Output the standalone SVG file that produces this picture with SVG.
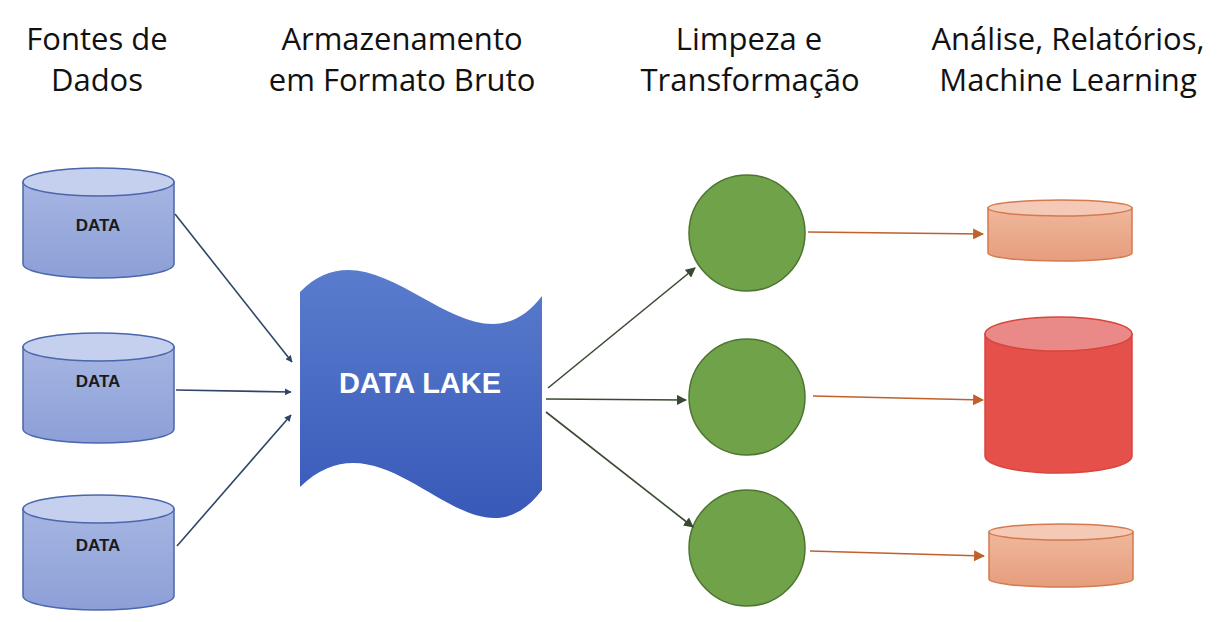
<svg xmlns="http://www.w3.org/2000/svg" width="1226" height="622" viewBox="0 0 1226 622">
<defs>
<linearGradient id="gBlue" x1="0" y1="0" x2="0" y2="1"><stop offset="0" stop-color="#a6b5e2"/><stop offset="1" stop-color="#8c9fd7"/></linearGradient>
<linearGradient id="gLake" x1="0" y1="0" x2="0" y2="1"><stop offset="0" stop-color="#5a7ccd"/><stop offset="1" stop-color="#3859b8"/></linearGradient>
<linearGradient id="gOrange" x1="0" y1="0" x2="0" y2="1"><stop offset="0" stop-color="#f0b79c"/><stop offset="1" stop-color="#e69d7d"/></linearGradient>
<marker id="aBlue" viewBox="0 0 10 10" refX="9" refY="5" markerWidth="7" markerHeight="7" orient="auto" markerUnits="userSpaceOnUse"><path d="M0,0 L10,5 L0,10 z" fill="#2f4566"/></marker>
<marker id="aGreen" viewBox="0 0 10 10" refX="9" refY="5" markerWidth="10" markerHeight="10" orient="auto" markerUnits="userSpaceOnUse"><path d="M0,0 L10,5 L0,10 z" fill="#3a4a32"/></marker>
<marker id="aOrange" viewBox="0 0 10 10" refX="9" refY="5" markerWidth="11" markerHeight="11" orient="auto" markerUnits="userSpaceOnUse"><path d="M0,0 L10,5 L0,10 z" fill="#c0602a"/></marker>
</defs>
<style>
.title{font-family:"Open Sans","Liberation Sans",sans-serif;font-size:31px;fill:#111;text-anchor:middle}
.cyl{fill:url(#gBlue);stroke:#4b66ad;stroke-width:1.5}
.cyltop{fill:#c5cfee;stroke:#4b66ad;stroke-width:1.5}
.dtxt{font-family:"Liberation Sans",Arial,sans-serif;font-weight:bold;font-size:17px;fill:#1a1a1a;text-anchor:middle}
.circ{fill:#70a24a;stroke:#4d7430;stroke-width:1.5}
.ocyl{fill:url(#gOrange);stroke:#d47a4e;stroke-width:1.5}
.ocyltop{fill:#f4c9b5;stroke:#d47a4e;stroke-width:1.5}
.cb{stroke:#2f4566;stroke-width:1.6;fill:none;marker-end:url(#aBlue)}
.cg{stroke:#3a4a32;stroke-width:1.6;fill:none;marker-end:url(#aGreen)}
.co{stroke:#c0602a;stroke-width:1.6;fill:none;marker-end:url(#aOrange)}
</style>
<rect width="1226" height="622" fill="#ffffff"/>
<g id="titles">
<text class="title" x="97" y="50">Fontes de</text>
<text class="title" x="97" y="91">Dados</text>
<text class="title" x="402" y="50">Armazenamento</text>
<text class="title" x="402" y="91">em Formato Bruto</text>
<text class="title" x="749" y="50">Limpeza e</text>
<text class="title" x="750" y="91">Transformação</text>
<text class="title" x="1068" y="50">Análise, Relatórios,</text>
<text class="title" x="1068" y="91">Machine Learning</text>
</g>
<g id="src1">
<path class="cyl" d="M23,182 L23,264 A75.5,14 0 0 0 174,264 L174,182 Z"/>
<ellipse class="cyltop" cx="98.5" cy="182" rx="75.5" ry="14"/>
<text class="dtxt" x="98" y="231">DATA</text>
</g>
<g id="src2">
<path class="cyl" d="M23,347 L23,429 A75.5,14 0 0 0 174,429 L174,347 Z"/>
<ellipse class="cyltop" cx="98.5" cy="347" rx="75.5" ry="14"/>
<text class="dtxt" x="98" y="387">DATA</text>
</g>
<g id="src3">
<path class="cyl" d="M23,509 L23,596 A75.5,14 0 0 0 174,596 L174,509 Z"/>
<ellipse class="cyltop" cx="98.5" cy="509" rx="75.5" ry="14"/>
<text class="dtxt" x="98" y="551">DATA</text>
</g>
<g id="lake">
<path d="M300,292 C380,210 470,390 542,296 L542,490 C470,585 390,400 300,487 Z" fill="url(#gLake)"/>
<text x="420" y="393" font-family="'Liberation Sans',Arial,sans-serif" font-weight="bold" font-size="29" fill="#ffffff" text-anchor="middle">DATA LAKE</text>
</g>
<g id="proc1"><circle class="circ" cx="747" cy="233" r="58"/></g>
<g id="proc2"><circle class="circ" cx="747" cy="397" r="58"/></g>
<g id="proc3"><circle class="circ" cx="747" cy="548" r="58"/></g>
<g id="out1">
<path class="ocyl" d="M988,208 L988,253 A72,8 0 0 0 1132,253 L1132,208 Z"/>
<ellipse class="ocyltop" cx="1060" cy="208" rx="72" ry="8"/>
</g>
<g id="out2">
<path d="M985,334 L985,456 A73.5,17 0 0 0 1132,456 L1132,334 Z" fill="#e5504a" stroke="#d9453d" stroke-width="1.5"/>
<ellipse cx="1058.5" cy="334" rx="73.5" ry="17" fill="#ea8a88" stroke="#d9453d" stroke-width="1.5"/>
</g>
<g id="out3">
<path class="ocyl" d="M989,532 L989,579 A72,8 0 0 0 1133,579 L1133,532 Z"/>
<ellipse class="ocyltop" cx="1061" cy="532" rx="72" ry="8"/>
</g>
<g id="connectors">
<line class="cb" x1="175" y1="214" x2="292" y2="362"/>
<line class="cb" x1="176" y1="390" x2="291" y2="392"/>
<line class="cb" x1="177" y1="546" x2="291" y2="415"/>
<line class="cg" x1="548" y1="388" x2="695" y2="268"/>
<line class="cg" x1="546" y1="399" x2="686" y2="400"/>
<line class="cg" x1="546" y1="412" x2="693" y2="527"/>
<line class="co" x1="808" y1="232" x2="983" y2="234"/>
<line class="co" x1="813" y1="396" x2="983" y2="400"/>
<line class="co" x1="810" y1="551" x2="984" y2="556"/>
</g>
</svg>
